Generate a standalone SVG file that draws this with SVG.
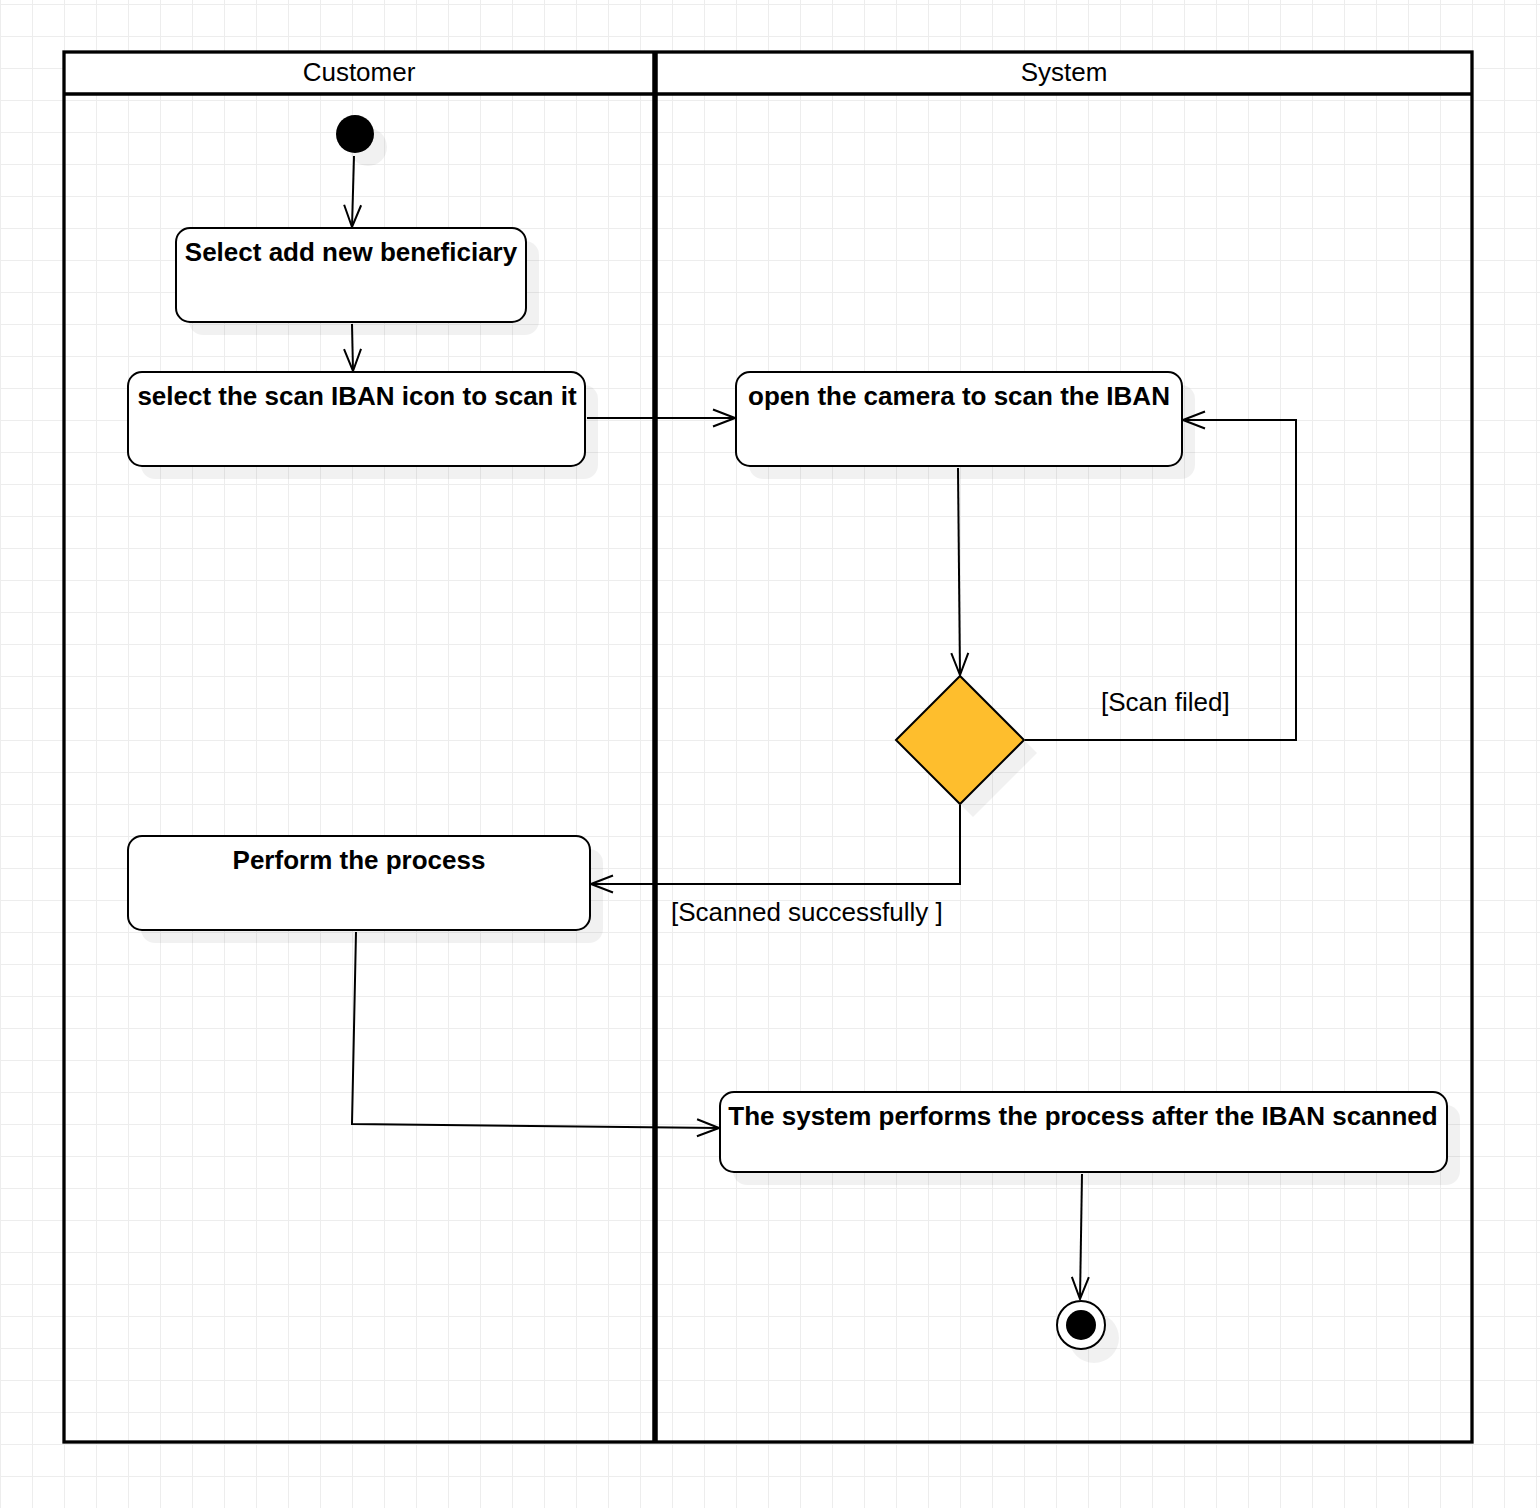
<svg xmlns="http://www.w3.org/2000/svg" width="1540" height="1508" viewBox="0 0 1540 1508">
<style>
.hdr{font-family:"Liberation Sans",Arial,sans-serif;font-size:26px;fill:#000;text-anchor:middle}
.lbl{font-family:"Liberation Sans",Arial,sans-serif;font-size:26px;font-weight:bold;fill:#000;text-anchor:middle}
.elbl{font-family:"Liberation Sans",Arial,sans-serif;font-size:26px;fill:#000}
.node{fill:#fff;stroke:#000;stroke-width:2}
.shadow{fill:#000;fill-opacity:0.055;stroke:none}
.edge{fill:none;stroke:#000;stroke-width:2}
.pool{fill:none;stroke:#000;stroke-width:3.3}
</style>
<defs>
<pattern id="grid" x="0" y="4" width="32" height="32" patternUnits="userSpaceOnUse">
<path d="M0 0.5H32M0.5 0V32" fill="none" stroke="#ededed" stroke-width="1"/>
</pattern>
<marker id="open" viewBox="0 0 24 20" refX="23" refY="10" markerWidth="24" markerHeight="20" markerUnits="userSpaceOnUse" orient="auto">
<path d="M1 1.5L23 10L1 18.5" fill="none" stroke="#000" stroke-width="2"/>
</marker>
</defs>
<rect width="1540" height="1508" fill="#fff"/>
<rect width="1540" height="1508" fill="url(#grid)"/>

<g id="pool">
<rect x="64" y="52" width="1408" height="42" fill="#fff"/>
<rect class="pool" x="64" y="52" width="1408" height="1390"/>
<line class="pool" x1="64" y1="94" x2="1472" y2="94"/>
<line x1="655" y1="52" x2="655" y2="1442" stroke="#000" stroke-width="5.5"/>
<text class="hdr" x="359" y="81">Customer</text>
<text class="hdr" x="1064" y="81">System</text>
</g>

<g id="start">
<circle class="shadow" cx="368" cy="147" r="19"/>
<circle cx="355" cy="134" r="19" fill="#000"/>
</g>

<g id="n1">
<rect class="shadow" x="189" y="241" width="350" height="94" rx="14"/>
<rect class="node" x="176" y="228" width="350" height="94" rx="14"/>
<text class="lbl" x="351" y="261">Select add new beneficiary</text>
</g>

<g id="n2">
<rect class="shadow" x="141" y="385" width="457" height="94" rx="14"/>
<rect class="node" x="128" y="372" width="457" height="94" rx="14"/>
<text class="lbl" x="357" y="405">select the scan IBAN icon to scan it</text>
</g>

<g id="n3">
<rect class="shadow" x="749" y="385" width="446" height="94" rx="14"/>
<rect class="node" x="736" y="372" width="446" height="94" rx="14"/>
<text class="lbl" x="959" y="405">open the camera to scan the IBAN</text>
</g>

<g id="decision">
<polygon class="shadow" points="909,753 973,689 1037,753 973,817"/>
<polygon points="896,740 960,676 1024,740 960,804" fill="#FEBE2D" stroke="#000" stroke-width="2"/>
</g>

<g id="n4">
<rect class="shadow" x="141" y="849" width="462" height="94" rx="14"/>
<rect class="node" x="128" y="836" width="462" height="94" rx="14"/>
<text class="lbl" x="359" y="869">Perform the process</text>
</g>

<g id="n5">
<rect class="shadow" x="733" y="1105" width="727" height="80" rx="14"/>
<rect class="node" x="720" y="1092" width="727" height="80" rx="14"/>
<text class="lbl" x="1083" y="1125">The system performs the process after the IBAN scanned</text>
</g>

<g id="end">
<circle class="shadow" cx="1094" cy="1338" r="25"/>
<circle cx="1081" cy="1325" r="24" fill="#fff" stroke="#000" stroke-width="2"/>
<circle cx="1081" cy="1325" r="15" fill="#000"/>
</g>

<g id="connectors">
<path class="edge" d="M354 156L352 227" marker-end="url(#open)"/>
<path class="edge" d="M352 324L353 371" marker-end="url(#open)"/>
<path class="edge" d="M587 418L735 418" marker-end="url(#open)"/>
<path class="edge" d="M958 468L960 675" marker-end="url(#open)"/>
<path class="edge" d="M1025 740H1296V420H1183" marker-end="url(#open)"/>
<path class="edge" d="M960 805V884H591" marker-end="url(#open)"/>
<path class="edge" d="M356 932L352 1124L719 1128" marker-end="url(#open)"/>
<path class="edge" d="M1082 1174L1080 1299" marker-end="url(#open)"/>
<text class="elbl" x="1101" y="711">[Scan filed]</text>
<text class="elbl" x="671" y="921">[Scanned successfully ]</text>
</g>
</svg>
